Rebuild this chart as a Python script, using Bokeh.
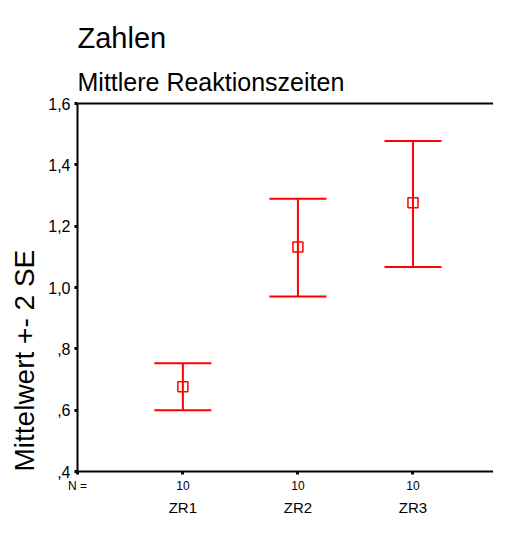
from bokeh.plotting import figure
from bokeh.models import (Range1d, LinearAxis, FixedTicker, Whisker, TeeHead,
                          ColumnDataSource, Title, CustomJSTickFormatter)
from bokeh.embed import file_html
from bokeh.resources import INLINE

# ---- data ----
categories = ["ZR1", "ZR2", "ZR3"]
means = [0.676, 1.132, 1.276]
upper = [0.753, 1.289, 1.478]
lower = [0.600, 0.971, 1.067]
n_counts = ["10", "10", "10"]
n_prefix = "N ="
y_ticks = [0.4, 0.6, 0.8, 1.0, 1.2, 1.4, 1.6]
y_tick_labels = [",4", ",6", ",8", "1,0", "1,2", "1,4", "1,6"]
x_pos = [1, 2, 3]

FONT = "Liberation Sans"
RED = "#ff0000"

fmt_code = """
let best = 0, bd = Infinity;
for (let i = 0; i < tvals.length; i++) {
  const d = Math.abs(tvals[i] - tick);
  if (d < bd) { bd = d; best = i; }
}
return tlabels[best];
"""


def fmt(vals, labels):
    return CustomJSTickFormatter(args=dict(tvals=vals, tlabels=labels), code=fmt_code)


X0, X1 = 0.084, 3.70
p = figure(width=493, height=518, output_backend="svg", toolbar_location=None,
           x_range=Range1d(X0, X1), y_range=Range1d(0.4, 1.6),
           x_axis_type=None, y_axis_type=None,
           min_border_left=75, min_border_right=0, min_border_top=103,
           min_border_bottom=40)
p.outline_line_color = None
p.background_fill_color = "white"
p.border_fill_color = "white"

# left axis
yax = LinearAxis(ticker=FixedTicker(ticks=y_ticks), formatter=fmt(y_ticks, y_tick_labels))
yax.axis_line_width = 2
yax.axis_line_color = "black"
yax.major_tick_in = 0
yax.major_tick_out = 3
yax.major_tick_line_width = 3
yax.minor_tick_line_color = None
yax.major_label_text_font = FONT
yax.major_label_text_font_size = "16px"
yax.major_label_text_color = "black"
yax.major_label_standoff = 4
p.add_layout(yax, "left")

# invisible spacer between tick labels and the axis title
spacer = LinearAxis(ticker=FixedTicker(ticks=[]))
spacer.axis_line_color = None
spacer.major_tick_line_color = None
spacer.minor_tick_line_color = None
spacer.major_tick_out = 8
spacer.major_tick_in = 0
spacer.major_label_text_font_size = "0px"
p.add_layout(spacer, "left")

# y axis title (starts at bottom of frame)
p.add_layout(Title(text="Mittelwert +- 2 SE", align="left", text_font=FONT,
                   text_font_size="28px", text_font_style="normal",
                   text_color="black", standoff=12), "left")

# top line
tax = LinearAxis(ticker=FixedTicker(ticks=[]))
tax.axis_line_width = 2
tax.axis_line_color = "black"
tax.major_tick_line_color = None
tax.minor_tick_line_color = None
tax.major_tick_out = 5
tax.major_tick_in = 0
tax.major_label_text_font_size = "0px"
p.add_layout(tax, "above")

p.add_layout(Title(text="Mittlere Reaktionszeiten", align="left", text_font=FONT,
                   text_font_size="25px", text_font_style="normal",
                   text_color="black", standoff=15), "above")
p.add_layout(Title(text="Zahlen", align="left", text_font=FONT,
                   text_font_size="29px", text_font_style="normal",
                   text_color="black", standoff=10), "above")

# bottom axis with N counts
nax = LinearAxis(ticker=FixedTicker(ticks=[X0 + 0.001] + x_pos),
                 formatter=fmt([X0 + 0.001] + x_pos, [n_prefix] + n_counts))
nax.axis_line_width = 2
nax.axis_line_color = "black"
nax.major_tick_in = 0
nax.major_tick_out = 3
nax.major_tick_line_width = 3
nax.minor_tick_line_color = None
nax.major_label_text_font = FONT
nax.major_label_text_font_size = "12px"
nax.major_label_text_color = "black"
nax.major_label_standoff = 4
p.add_layout(nax, "below")

# bottom axis with category names
cax = LinearAxis(ticker=FixedTicker(ticks=x_pos), formatter=fmt(x_pos, categories))
cax.axis_line_color = None
cax.major_tick_line_color = None
cax.minor_tick_line_color = None
cax.major_tick_in = 0
cax.major_tick_out = 0
cax.major_label_text_font = FONT
cax.major_label_text_font_size = "15px"
cax.major_label_text_color = "black"
cax.major_label_standoff = 3
p.add_layout(cax, "below")

# error bars
src = ColumnDataSource(dict(x=x_pos, mean=means, upper=upper, lower=lower))
w = Whisker(source=src, base="x", upper="upper", lower="lower", dimension="height",
            line_color=RED, line_width=2,
            upper_head=TeeHead(size=57, line_color=RED, line_width=2),
            lower_head=TeeHead(size=57, line_color=RED, line_width=2))
p.add_layout(w)
p.scatter("x", "mean", source=src, marker="square", size=10,
          fill_color=None, line_color=RED, line_width=1.5)

open("out.html", "w").write(file_html(p, INLINE))
